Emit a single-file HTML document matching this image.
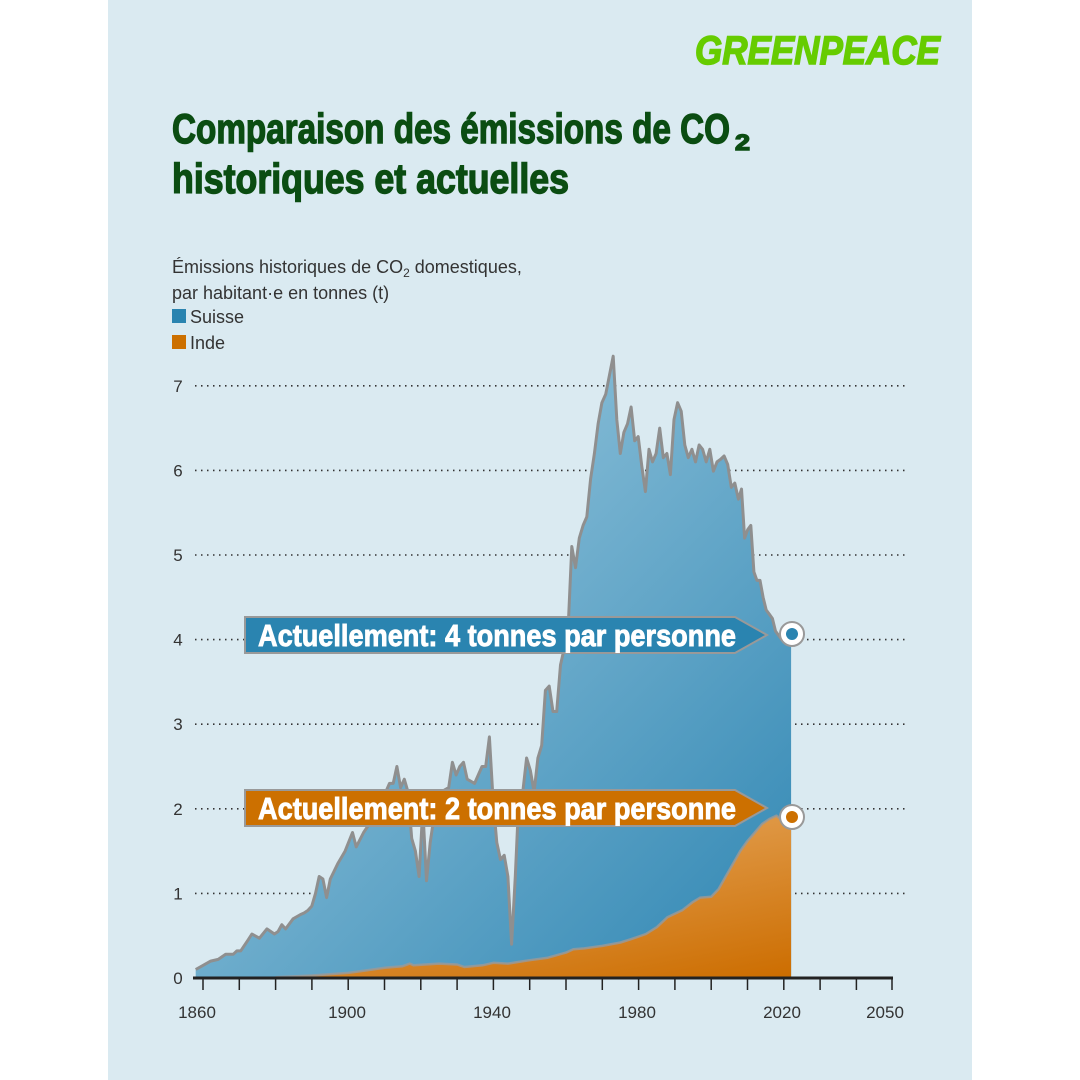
<!DOCTYPE html>
<html><head><meta charset="utf-8">
<style>
html,body{margin:0;padding:0;background:#fff;width:1080px;height:1080px;overflow:hidden}
svg{display:block}
text{font-family:"Liberation Sans",sans-serif}
</style></head>
<body>
<svg id="s" width="1080" height="1080" viewBox="0 0 1080 1080">
<defs>
<linearGradient id="gb" x1="0" y1="0" x2="1" y2="1" gradientUnits="objectBoundingBox">
<stop offset="0.3" stop-color="#86bcd6"/><stop offset="1" stop-color="#2f86b3"/></linearGradient>
<linearGradient id="go" x1="0.3" y1="0" x2="1" y2="1">
<stop offset="0" stop-color="#e8ac66"/><stop offset="1" stop-color="#cc6d00"/></linearGradient>
</defs>
<rect x="108" y="0" width="864" height="1080" fill="#daeaf1"/>
<text x="695" y="64" font-size="40" font-weight="bold" font-style="italic" fill="#66cc00" stroke="#66cc00" stroke-width="1.5" textLength="245" lengthAdjust="spacingAndGlyphs">GREENPEACE</text>
<g fill="#0b4d12" stroke="#0b4d12" stroke-width="1.4" font-weight="bold">
<text x="172" y="143" font-size="42" textLength="558" lengthAdjust="spacingAndGlyphs">Comparaison des émissions de CO</text>
<text x="735" y="150" font-size="22" textLength="15" lengthAdjust="spacingAndGlyphs">2</text>
<text x="172" y="193" font-size="42" textLength="397" lengthAdjust="spacingAndGlyphs">historiques et actuelles</text>
</g>
<g fill="#333" font-size="18">
<text x="172" y="273">Émissions historiques de CO<tspan font-size="12" dy="4">2</tspan><tspan dy="-4"> domestiques,</tspan></text>
<text x="172" y="299">par habitant·e en tonnes (t)</text>
<rect x="172" y="309" width="14" height="14" fill="#2a84b0"/>
<text x="190" y="323">Suisse</text>
<rect x="172" y="335" width="14" height="14" fill="#cc7000"/>
<text x="190" y="349">Inde</text>
</g>
<g id="grid" stroke="#333" stroke-width="1.6" stroke-dasharray="1.5 4.5"></g>
<g id="yl" fill="#333" font-size="17" text-anchor="middle"></g>
<path id="sw" fill="url(#gb)"/>
<path id="in" fill="url(#go)"/>
<path id="swl" fill="none" stroke="#8f8f8f" stroke-width="3" stroke-linejoin="round"/>
<path id="inl" fill="none" stroke="#9a9a9a" stroke-width="2.5" stroke-linejoin="round" opacity="0.8"/>
<line x1="193" y1="978" x2="893" y2="978" stroke="#222" stroke-width="3"/>
<g id="ticks" stroke="#222" stroke-width="1.5"></g>
<g fill="#333" font-size="17" text-anchor="middle">
<text x="197" y="1018">1860</text><text x="347" y="1018">1900</text><text x="492" y="1018">1940</text><text x="637" y="1018">1980</text><text x="782" y="1018">2020</text><text x="885" y="1018">2050</text>
</g>
<path d="M245 617 H735 L767 635 L735 653 H245 Z" fill="#2a84b0" stroke="#999" stroke-width="2"/>
<text x="258" y="646" font-size="31" font-weight="bold" fill="#fff" stroke="#fff" stroke-width="0.9" textLength="478" lengthAdjust="spacingAndGlyphs">Actuellement: 4 tonnes par personne</text>
<path d="M245 790 H735 L767 808 L735 826 H245 Z" fill="#cc7000" stroke="#999" stroke-width="2"/>
<text x="258" y="819" font-size="31" font-weight="bold" fill="#fff" stroke="#fff" stroke-width="0.9" textLength="478" lengthAdjust="spacingAndGlyphs">Actuellement: 2 tonnes par personne</text>
<circle cx="792" cy="634" r="12" fill="#fff" stroke="#999" stroke-width="2"/>
<circle cx="792" cy="634" r="6" fill="#2a84b0"/>
<circle cx="792" cy="817" r="12" fill="#fff" stroke="#999" stroke-width="2"/>
<circle cx="792" cy="817" r="6" fill="#cc7000"/>
</svg>
<script>
var X=function(y){return 203+(y-1860)*3.63},Y=function(v){return 978-v*84.6};
var sp=[[1858,0],[1890,1],[1943,2],[1970,3],[2005,2.5],[2015,1],[2022,0]];
function sh(y){for(var i=1;i<sp.length;i++){if(y<=sp[i][0]){var a=sp[i-1],b=sp[i];return y+a[1]+(b[1]-a[1])*(y-a[0])/(b[0]-a[0]);}}return y;}
var ns="http://www.w3.org/2000/svg";
var g=document.getElementById("grid"),yl=document.getElementById("yl");
for(var i=0;i<=7;i++){var yy=Y(i);
 if(i>0){var l=document.createElementNS(ns,"line");l.setAttribute("x1",195);l.setAttribute("x2",905);l.setAttribute("y1",yy);l.setAttribute("y2",yy);g.appendChild(l);}
 var t=document.createElementNS(ns,"text");t.setAttribute("x",178);t.setAttribute("y",yy+6);t.textContent=i;yl.appendChild(t);}
var tk=document.getElementById("ticks");
for(var yr=1860;yr<=2050;yr+=10){var l=document.createElementNS(ns,"line");var x=X(yr);if(yr==2050)x=892;l.setAttribute("x1",x);l.setAttribute("x2",x);l.setAttribute("y1",978);l.setAttribute("y2",990);tk.appendChild(l);}
var sw=[[1858,0.1],[1860,0.15],[1862,0.2],[1864,0.22],[1866,0.28],[1868,0.28],[1869,0.32],[1870,0.32],[1872,0.45],[1873,0.52],[1875,0.47],[1877,0.58],[1879,0.52],[1880,0.55],[1881,0.63],[1882,0.58],[1884,0.7],[1886,0.75],[1887,0.77],[1888,0.8],[1889,0.85],[1890,1.0],[1891,1.2],[1892,1.17],[1893,0.95],[1894,1.17],[1896,1.35],[1898,1.5],[1900,1.72],[1901,1.55],[1903,1.72],[1905,1.85],[1907,2.2],[1909,2.2],[1910,2.3],[1911,2.3],[1912,2.5],[1913,2.25],[1914,2.35],[1915,2.2],[1916,1.65],[1917,1.5],[1918,1.2],[1919,2.0],[1920,1.15],[1921,1.6],[1922,1.9],[1924,2.2],[1926,2.25],[1927,2.55],[1928,2.4],[1929,2.5],[1930,2.55],[1931,2.35],[1933,2.3],[1935,2.5],[1936,2.5],[1937,2.85],[1938,2.1],[1939,1.6],[1940,1.4],[1941,1.45],[1942,1.2],[1943,0.4],[1944,1.2],[1945,2.2],[1946,2.2],[1947,2.6],[1948,2.45],[1949,2.2],[1950,2.6],[1951,2.75],[1952,3.4],[1953,3.45],[1954,3.15],[1955,3.15],[1956,3.7],[1957,3.9],[1958,4.1],[1959,5.1],[1960,4.85],[1961,5.2],[1962,5.35],[1963,5.45],[1964,5.9],[1965,6.2],[1966,6.55],[1967,6.8],[1968,6.9],[1970,7.35],[1971,6.6],[1972,6.2],[1973,6.45],[1974,6.55],[1975,6.75],[1976,6.35],[1977,6.4],[1978,6.05],[1979,5.75],[1980,6.25],[1981,6.1],[1982,6.2],[1983,6.5],[1984,6.15],[1985,6.2],[1986,5.95],[1987,6.6],[1988,6.8],[1989,6.7],[1990,6.3],[1991,6.15],[1992,6.25],[1993,6.1],[1994,6.3],[1995,6.25],[1996,6.1],[1997,6.25],[1998,5.99],[1999,6.1],[2000,6.13],[2001,6.17],[2002,6.07],[2003,5.8],[2004,5.85],[2005,5.66],[2006,5.78],[2007,5.2],[2008,5.3],[2009,5.35],[2010,4.8],[2011,4.7],[2012,4.7],[2013,4.5],[2014,4.35],[2015,4.3],[2016,4.25],[2017,4.1],[2018,4.05],[2019,4.0],[2020,4.0],[2021,4.0],[2022,4.0]];
var ind=[[1858,0],[1875,0],[1880,0.01],[1890,0.03],[1900,0.06],[1905,0.09],[1910,0.12],[1915,0.14],[1917,0.17],[1918,0.15],[1925,0.17],[1930,0.16],[1932,0.13],[1937,0.15],[1940,0.18],[1944,0.17],[1947,0.19],[1950,0.21],[1955,0.24],[1960,0.3],[1962,0.34],[1965,0.35],[1970,0.38],[1975,0.42],[1978,0.46],[1982,0.52],[1985,0.6],[1988,0.72],[1992,0.8],[1995,0.9],[1997,0.95],[2000,0.96],[2002,1.05],[2004,1.2],[2006,1.35],[2008,1.5],[2010,1.62],[2012,1.72],[2014,1.82],[2016,1.88],[2018,1.92],[2020,1.85],[2022,1.95]];
sw=sw.map(function(p){return [sh(p[0]),p[1]];});
function line(d){return d.map(function(p,i){return (i?"L":"M")+X(p[0]).toFixed(1)+" "+Y(p[1]).toFixed(1)}).join(" ");}
function area(d){return line(d)+" L"+X(2022).toFixed(1)+" 978 L"+X(1858).toFixed(1)+" 978 Z";}
document.getElementById("sw").setAttribute("d",area(sw));
document.getElementById("swl").setAttribute("d",line(sw));
document.getElementById("in").setAttribute("d",area(ind));
document.getElementById("inl").setAttribute("d",line(ind.slice(2)));
</script>
</body></html>
